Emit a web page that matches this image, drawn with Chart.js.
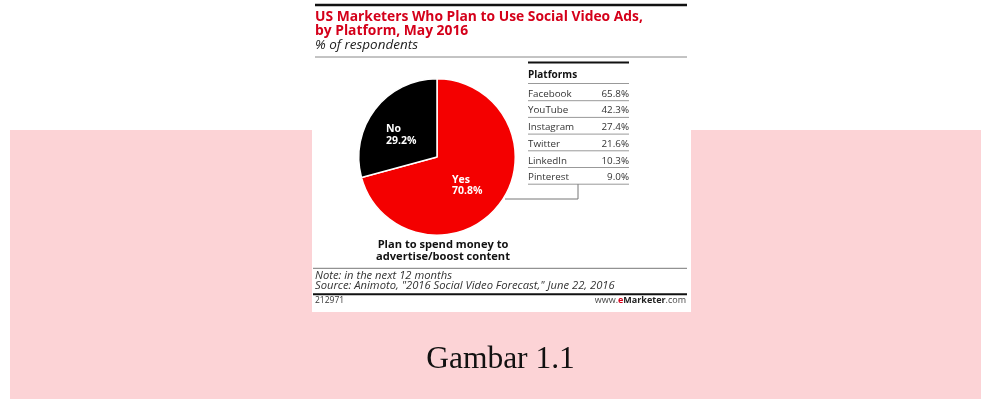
<!DOCTYPE html>
<html>
<head>
<meta charset="utf-8">
<script src="https://cdn.jsdelivr.net/npm/chart.js@4.4.1/dist/chart.umd.min.js"></script>
<style>
  html, body { margin: 0; padding: 0; background: #fff; }
  #wrap { position: relative; width: 982px; height: 400px; }
</style>
</head>
<body>
<div id="wrap"><canvas id="myChart"></canvas></div>
<script>
// pie data
var sliceLabels = ['Yes', 'No'];
var sliceValues = [70.8, 29.2];
var sliceColors = ['#f40000', '#000000'];

// side table
var platformNames = ['Facebook', 'YouTube', 'Instagram', 'Twitter', 'LinkedIn', 'Pinterest'];
var platformShares = [65.8, 42.3, 27.4, 21.6, 10.3, 9.0];

var titleLines = ['US Marketers Who Plan to Use Social Video Ads,', 'by Platform, May 2016'];
var subTitle = '% of respondents';
var pieCaption = ['Plan to spend money to', 'advertise/boost content'];
var noteLines = ['Note: in the next 12 months', 'Source: Animoto, "2016 Social Video Forecast," June 22, 2016'];
var chartId = '212971';
var figureCaption = 'Gambar 1.1';

var SANS = '"Open Sans", "Noto Sans", sans-serif';

function txt(ctx, s, x, y, font, color, align) {
    ctx.font = font;
    ctx.fillStyle = color;
    ctx.textAlign = align || 'left';
    ctx.textBaseline = 'alphabetic';
    ctx.fillText(s, x, y);
}

// pick a font size so the text is about as wide as in the picture
function fitSize(ctx, s, style, targetW) {
    ctx.font = style + ' 20px ' + SANS;
    return 20 * targetW / ctx.measureText(s).width;
}

function hline(ctx, x1, x2, y, w, color) {
    ctx.beginPath();
    ctx.moveTo(x1, y);
    ctx.lineTo(x2, y);
    ctx.lineWidth = w;
    ctx.strokeStyle = color;
    ctx.stroke();
}

var pagePlugin = {
    id: 'page',
    beforeDraw: function (chart) {
        var ctx = chart.ctx;
        ctx.save();
        ctx.fillStyle = '#ffffff';
        ctx.fillRect(0, 0, 982, 400);
        // pink band behind the figure
        ctx.fillStyle = '#fcd3d6';
        ctx.fillRect(10, 130, 971, 269);
        // white figure card
        ctx.fillStyle = '#ffffff';
        ctx.fillRect(312, 0, 379, 312);
        ctx.restore();
    },
    afterDraw: function (chart) {
        var ctx = chart.ctx;
        ctx.save();

        // header
        hline(ctx, 315, 687, 5, 2.5, '#111');
        var ts = fitSize(ctx, titleLines[0], 'bold', 328);
        txt(ctx, titleLines[0], 315, 20.7, 'bold ' + ts + 'px ' + SANS, '#d4001a', 'left');
        txt(ctx, titleLines[1], 315, 35, 'bold ' + ts + 'px ' + SANS, '#d4001a', 'left');
        var ss = fitSize(ctx, subTitle, 'italic', 103);
        txt(ctx, subTitle, 315, 49, 'italic ' + ss + 'px ' + SANS, '#222', 'left');
        hline(ctx, 315, 687, 57, 1, '#888');

        // slice labels
        var meta = chart.getDatasetMeta(0);
        var shifts = [[-16, 2], [-20, -1]];
        meta.data.forEach(function (arc, i) {
            var p = arc.tooltipPosition();
            var x = p.x + shifts[i][0];
            var y = p.y + shifts[i][1];
            txt(ctx, sliceLabels[i], x, y, 'bold 10.5px ' + SANS, '#fff', 'left');
            txt(ctx, sliceValues[i].toFixed(1) + '%', x, y + 11.7, 'bold 10.5px ' + SANS, '#fff', 'left');
        });

        // platforms table
        var tx1 = 528, tx2 = 629;
        hline(ctx, tx1, tx2, 62.5, 2, '#111');
        txt(ctx, 'Platforms', tx1, 77.5, 'bold 10px ' + SANS, '#111', 'left');
        hline(ctx, tx1, tx2, 83.5, 1, '#999');
        for (var i = 0; i < platformNames.length; i++) {
            var by = 96.7 + 16.7 * i;
            txt(ctx, platformNames[i], tx1, by, '9.8px ' + SANS, '#333', 'left');
            txt(ctx, platformShares[i].toFixed(1) + '%', tx2, by, '9.8px ' + SANS, '#333', 'right');
            hline(ctx, tx1, tx2, by + 4, 1, '#999');
        }

        // leader line from the Yes slice to the table
        var arc0 = meta.data[0];
        var ly = 199;
        var dy = ly - arc0.y;
        var lx = arc0.x + Math.sqrt(Math.max(arc0.outerRadius * arc0.outerRadius - dy * dy, 0)) + 2;
        var tableBottom = 96.7 + 16.7 * (platformNames.length - 1) + 4;
        ctx.beginPath();
        ctx.moveTo(lx, ly);
        ctx.lineTo(578, ly);
        ctx.lineTo(578, tableBottom);
        ctx.lineWidth = 1;
        ctx.strokeStyle = '#777';
        ctx.stroke();

        // caption under pie
        var cs = fitSize(ctx, pieCaption[1], 'bold', 134);
        txt(ctx, pieCaption[0], 443, 248, 'bold ' + cs + 'px ' + SANS, '#111', 'center');
        txt(ctx, pieCaption[1], 443, 259.5, 'bold ' + cs + 'px ' + SANS, '#111', 'center');

        // notes + footer
        hline(ctx, 313, 687, 268.3, 1, '#777');
        var ns = fitSize(ctx, noteLines[1], 'italic', 300);
        txt(ctx, noteLines[0], 315, 279, 'italic ' + ns + 'px ' + SANS, '#333', 'left');
        txt(ctx, noteLines[1], 315, 289.3, 'italic ' + ns + 'px ' + SANS, '#333', 'left');
        hline(ctx, 313, 687, 294.3, 2, '#111');
        txt(ctx, chartId, 315, 303, '8.5px ' + SANS, '#333', 'left');

        // www.eMarketer.com, right aligned in pieces
        var parts = [['www.', '', '#444'], ['e', 'bold ', '#d4001a'], ['Marketer', 'bold ', '#222'], ['.com', '', '#444']];
        var fs = '9px ';
        var total = 0;
        parts.forEach(function (p) { ctx.font = p[1] + fs + SANS; total += ctx.measureText(p[0]).width; });
        var px = 686 - total;
        parts.forEach(function (p) {
            txt(ctx, p[0], px, 303, p[1] + fs + SANS, p[2], 'left');
            ctx.font = p[1] + fs + SANS;
            px += ctx.measureText(p[0]).width;
        });

        // figure caption on the pink band
        txt(ctx, figureCaption, 500.5, 368.3, '31.5px "Liberation Serif", "Times New Roman", serif', '#111', 'center');

        ctx.restore();
    }
};

var ctx = document.getElementById('myChart').getContext('2d');
var myChart = new Chart(ctx, {
    type: 'pie',
    data: {
        labels: sliceLabels,
        datasets: [{
            data: sliceValues,
            backgroundColor: sliceColors,
            borderColor: '#ffffff',
            borderWidth: 1.5
        }]
    },
    options: {
        responsive: true,
        maintainAspectRatio: false,
        animation: false,
        layout: {
            padding: { left: 358, right: 466, top: 78, bottom: 164 }
        },
        plugins: {
            legend: { display: false },
            tooltip: { enabled: false },
            title: { display: false }
        }
    },
    plugins: [pagePlugin]
});
</script>
</body>
</html>
